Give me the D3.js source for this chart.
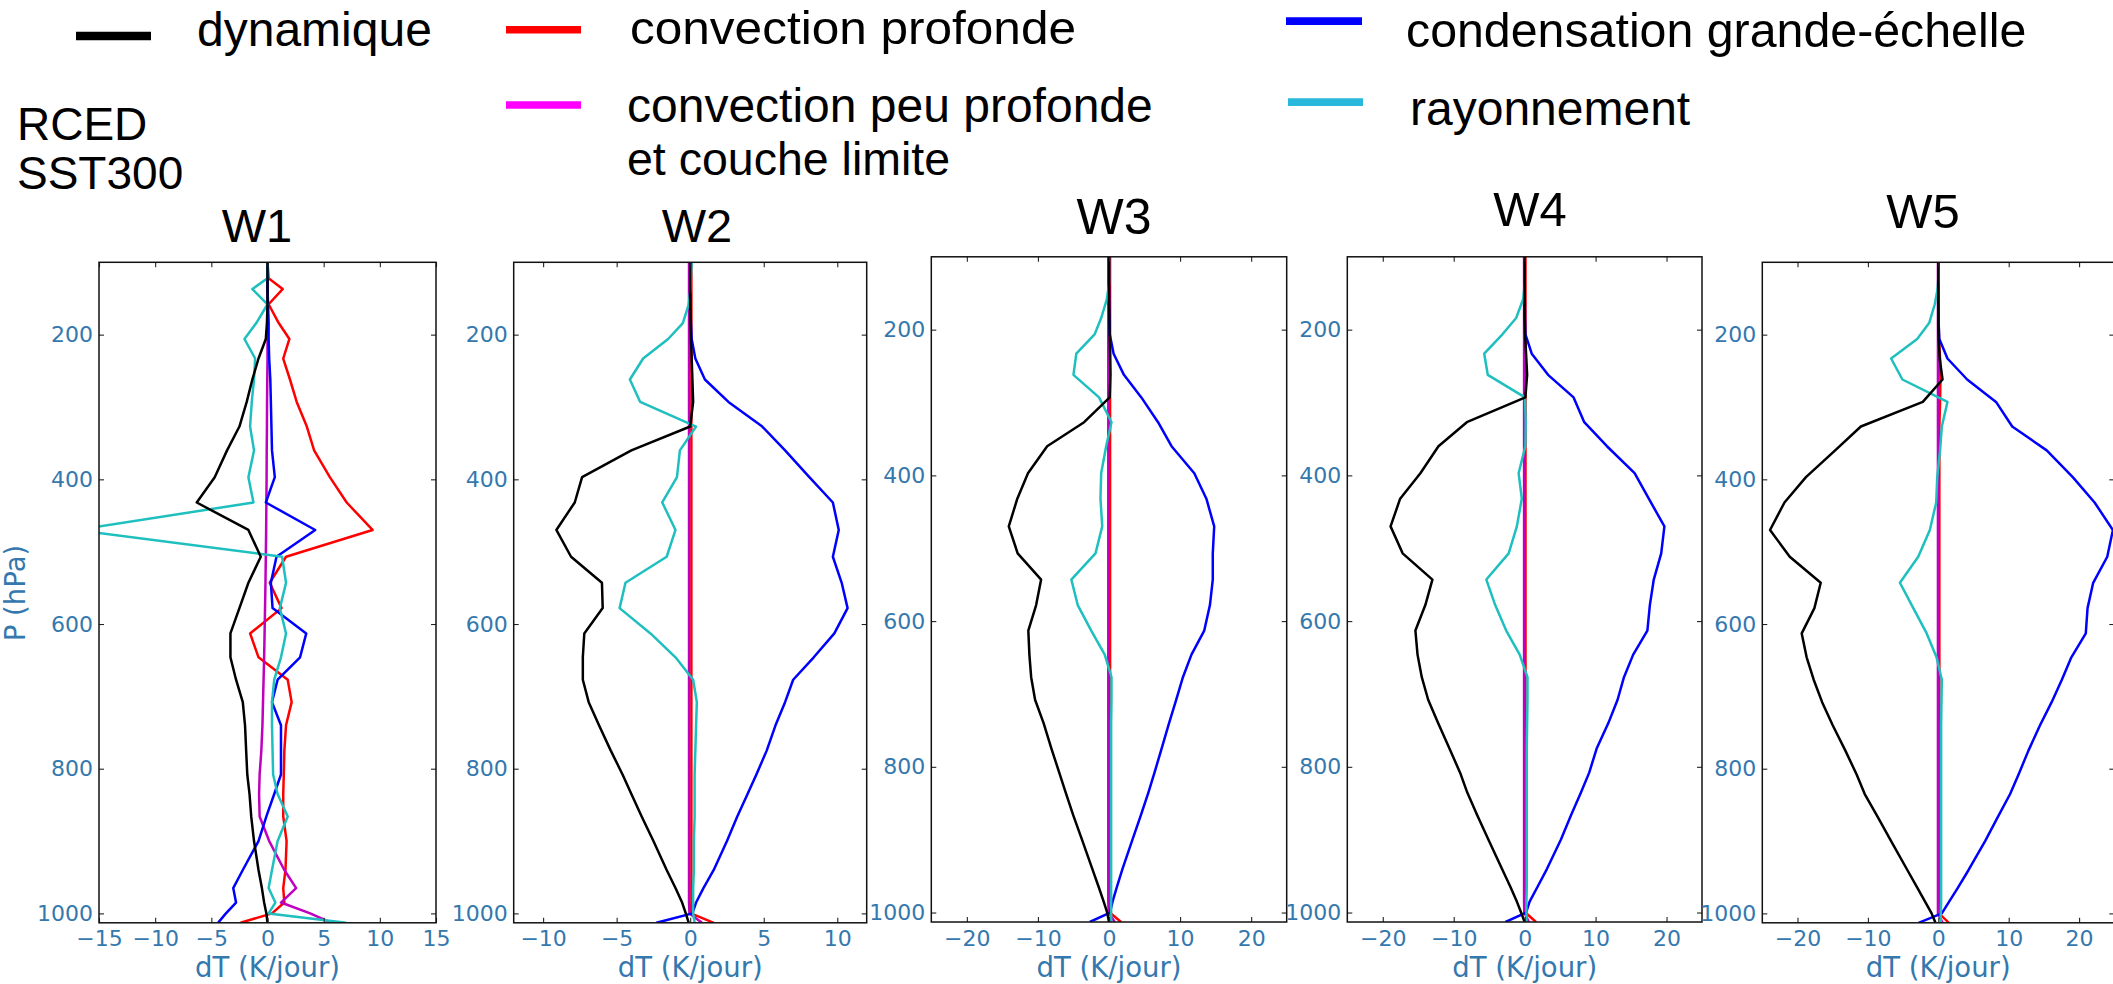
<!DOCTYPE html>
<html><head><meta charset="utf-8">
<script src="https://cdn.jsdelivr.net/npm/d3@7"></script>
<style>
html,body{margin:0;padding:0;background:#fff;}
svg{display:block;}
</style></head><body>
<svg id="chart" width="2113" height="984"></svg>
<script>
// ---------------- DATA ----------------
const levels = [100, 122, 137, 158, 184, 206, 233, 262, 293, 327, 360, 397, 432, 470, 507, 543, 578, 613, 646, 677, 708, 740, 775, 808, 835, 866, 900, 940, 965, 985, 1000, 1013];

const panelTitles = ["W1", "W2", "W3", "W4", "W5"];
const seriesKeys = ["conv", "shal", "ls", "rad", "dyn"];
const seriesNames = ["dynamique", "convection profonde", "convection peu profonde", "condensation grande-échelle", "rayonnement"];
const xDomains = [[-15, 15], [-12, 12], [-25, 25], [-25, 25], [-25, 25]];
const xTicks = [[-15, -10, -5, 0, 5, 10, 15], [-10, -5, 0, 5, 10], [-20, -10, 0, 10, 20], [-20, -10, 0, 10, 20], [-20, -10, 0, 10, 20]];
const yTicks = [200, 400, 600, 800, 1000];
const pDomain = [100, 1013];

// W1
const dyn1 = [0, 0, 0, 0, -0.05, -0.15, -0.8, -1.35, -1.85, -2.5, -3.6, -4.7, -6.3, -1.7, -0.6, -1.7, -2.5, -3.3, -3.3, -2.8, -2.2, -2.0, -1.9, -1.8, -1.6, -1.45, -1.2, -0.8, -0.5, -0.3, -0.1, 0];
const conv1 = [0, 0.1, 1.35, 0.1, 1.0, 1.95, 1.4, 2.0, 2.6, 3.5, 4.15, 5.55, 7.05, 9.35, 1.65, 0.2, 1.25, -1.55, -0.8, 1.8, 2.15, 1.65, 1.5, 1.45, 1.4, 1.4, 1.7, 1.6, 1.4, 1.5, 0.4, -2.4];
const shal1 = [0, 0, 0, 0, 0, 0, 0, -0.02, -0.04, -0.05, -0.07, -0.08, -0.1, -0.12, -0.15, -0.18, -0.22, -0.26, -0.3, -0.35, -0.4, -0.45, -0.55, -0.7, -0.75, -0.7, 0.15, 1.5, 2.55, 1.2, 3.8, 5.7];
const ls1 = [0, 0, 0, 0.05, 0.1, 0.1, 0.15, 0.25, 0.3, 0.35, 0.4, 0.65, -0.15, 4.25, 0.8, 0.3, 0.45, 3.45, 2.9, 0.9, 0.4, 1.2, 1.2, 1.2, 0.6, -0.1, -0.8, -2.2, -3.05, -2.8, -3.7, -4.4];
const rad1 = [0, 0, -1.35, 0, -1.0, -2.05, -1.1, -1.2, -1.4, -1.55, -1.2, -1.7, -1.25, -17, 1.3, 1.65, 1.1, 1.65, 1.2, 0.6, 0.4, 0.4, 0.45, 0.5, 0.9, 1.8, 0.9, 0.4, 0.1, 0.7, 0.1, 7.0];
// W2
const dyn2 = [0, 0, 0, 0, 0, 0.05, 0.1, 0.15, 0.2, 0, -4.0, -7.35, -7.85, -9.1, -8.1, -6.0, -5.95, -7.2, -7.3, -7.3, -6.9, -6.2, -5.4, -4.6, -4.0, -3.3, -2.5, -1.6, -1.0, -0.55, -0.3, -0.1];
const conv2 = [0.08, 0.08, 0.08, 0.08, 0.08, 0.08, 0.08, 0.08, 0.08, 0.08, 0.08, 0.08, 0.08, 0.08, 0.08, 0.08, 0.08, 0.08, 0.08, 0.08, 0.08, 0.08, 0.08, 0.08, 0.08, 0.08, 0.08, 0.08, 0.08, 0.08, 0.05, 1.6];
const shal2 = [-0.08, -0.08, -0.08, -0.08, -0.08, -0.08, -0.08, -0.08, -0.08, -0.08, -0.08, -0.08, -0.08, -0.08, -0.08, -0.08, -0.08, -0.08, -0.08, -0.08, -0.08, -0.08, -0.08, -0.08, -0.08, -0.08, -0.08, -0.08, -0.08, -0.08, -0.05, 0.8];
const ls2 = [0, 0, 0, 0.02, 0.05, 0.1, 0.35, 1.0, 2.6, 4.9, 6.45, 8.1, 9.7, 10.1, 9.7, 10.3, 10.7, 9.8, 8.4, 7.0, 6.45, 5.8, 5.2, 4.5, 3.9, 3.2, 2.5, 1.6, 0.9, 0.4, 0.15, -2.3];
const rad2 = [0.1, 0.05, 0.02, -0.1, -0.5, -1.5, -3.2, -4.1, -3.4, 0.4, -0.7, -0.9, -1.9, -1.0, -1.6, -4.4, -4.8, -2.7, -1.0, 0.2, 0.45, 0.4, 0.35, 0.3, 0.3, 0.3, 0.25, 0.25, 0.2, 0.2, 0.2, 0.3];
// W3
const dyn3 = [0, 0, 0, 0, 0.05, 0.1, 0.15, 0.2, 0.1, -3.5, -8.7, -11.4, -12.9, -14.1, -12.85, -9.55, -10.25, -11.35, -11.2, -10.95, -10.4, -9.2, -8.1, -7.0, -6.1, -5.05, -3.8, -2.35, -1.45, -0.75, -0.25, 0];
const conv3 = [0.15, 0.15, 0.15, 0.15, 0.15, 0.15, 0.15, 0.15, 0.15, 0.15, 0.15, 0.15, 0.15, 0.15, 0.15, 0.15, 0.15, 0.15, 0.15, 0.15, 0.15, 0.15, 0.15, 0.15, 0.15, 0.15, 0.15, 0.15, 0.15, 0.15, 0.1, 1.7];
const shal3 = [-0.1, -0.1, -0.1, -0.1, -0.1, -0.1, -0.1, -0.1, -0.1, -0.1, -0.1, -0.1, -0.1, -0.1, -0.1, -0.1, -0.1, -0.1, -0.1, -0.1, -0.1, -0.1, -0.1, -0.1, -0.1, -0.1, -0.1, -0.1, -0.1, -0.1, -0.05, 0.8];
const ls3 = [0, 0, 0, 0.02, 0.05, 0.1, 0.65, 2.1, 4.55, 6.9, 8.8, 12.0, 13.7, 14.8, 14.6, 14.6, 14.2, 13.4, 11.6, 10.4, 9.45, 8.45, 7.4, 6.4, 5.55, 4.5, 3.3, 1.9, 1.1, 0.5, 0.15, -2.7];
const rad3 = [0, 0, 0, -0.3, -1.1, -2.0, -4.6, -5.0, -1.4, 0.35, -0.4, -1.1, -1.2, -0.95, -1.9, -5.3, -4.4, -2.5, -0.6, 0.35, 0.35, 0.3, 0.3, 0.3, 0.3, 0.3, 0.3, 0.3, 0.3, 0.3, 0.3, 0.3];
// W4
const dyn4 = [0, 0, 0, 0, 0, 0.05, 0.2, 0.35, 0.1, -8.15, -12.15, -14.7, -17.55, -18.9, -17.2, -13.0, -14.0, -15.4, -15.1, -14.5, -13.6, -12.2, -10.6, -9.1, -8.1, -6.7, -5.1, -3.2, -2.0, -1.1, -0.5, 0];
const conv4 = [0.12, 0.12, 0.12, 0.12, 0.12, 0.12, 0.12, 0.12, 0.12, 0.12, 0.12, 0.12, 0.12, 0.12, 0.12, 0.12, 0.12, 0.12, 0.12, 0.12, 0.12, 0.12, 0.12, 0.12, 0.12, 0.12, 0.12, 0.12, 0.12, 0.12, 0.1, 1.6];
const shal4 = [-0.08, -0.08, -0.08, -0.08, -0.08, -0.08, -0.08, -0.08, -0.08, -0.08, -0.08, -0.08, -0.08, -0.08, -0.08, -0.08, -0.08, -0.08, -0.08, -0.08, -0.08, -0.08, -0.08, -0.08, -0.08, -0.08, -0.08, -0.08, -0.08, -0.08, -0.05, 0.6];
const ls4 = [0, 0, 0, 0.02, 0.05, 0.1, 1.0, 3.3, 6.9, 8.4, 11.6, 15.5, 17.5, 19.7, 19.25, 18.2, 17.65, 17.3, 15.3, 14.0, 13.1, 11.8, 10.15, 9.1, 7.95, 6.55, 5.1, 3.15, 1.8, 0.7, 0.2, -2.7];
const rad4 = [0, 0, 0, -0.2, -1.2, -3.1, -5.7, -5.2, 0.05, 0.15, 0.1, -0.85, -0.4, -1.1, -2.25, -5.4, -4.15, -2.6, -0.7, 0.4, 0.4, 0.35, 0.3, 0.3, 0.3, 0.3, 0.3, 0.3, 0.3, 0.25, 0.25, 0.25];
// W5
const dyn5 = [0, 0, 0, 0, 0, 0.05, 0.2, 0.6, -2.2, -11.0, -14.65, -18.8, -21.85, -23.9, -21.1, -16.7, -17.6, -19.4, -18.7, -17.7, -16.5, -15.0, -13.2, -11.6, -10.45, -8.65, -6.7, -4.4, -2.95, -1.8, -0.95, -0.4];
const conv5 = [0, 0, 0, 0, 0.05, 0.1, 0.25, 0.3, 0.25, 0.15, 0.15, 0.15, 0.15, 0.15, 0.15, 0.15, 0.15, 0.15, 0.15, 0.15, 0.15, 0.15, 0.15, 0.15, 0.15, 0.15, 0.15, 0.15, 0.15, 0.15, 0.1, 1.5];
const shal5 = [-0.05, -0.05, -0.05, -0.05, -0.05, -0.05, -0.05, -0.05, -0.05, -0.05, -0.05, -0.05, -0.05, -0.05, -0.05, -0.05, -0.05, -0.05, -0.05, -0.05, -0.05, -0.05, -0.05, -0.05, -0.05, -0.05, -0.05, -0.05, -0.05, -0.05, -0.05, 0.6];
const ls5 = [0, 0, 0, 0.02, 0.05, 0.15, 1.3, 4.1, 8.2, 10.5, 15.4, 19.1, 22.2, 24.8, 24.0, 22.0, 21.2, 20.95, 18.9, 17.55, 16.1, 14.45, 12.8, 11.4, 10.2, 8.5, 6.65, 4.3, 2.75, 1.45, 0.5, -2.8];
const rad5 = [0, 0, -0.1, -0.5, -1.3, -3.0, -6.7, -5.1, 1.3, 0.5, 0.25, -0.15, -0.3, -1.2, -2.85, -5.45, -3.55, -1.65, -0.25, 0.5, 0.45, 0.4, 0.4, 0.4, 0.4, 0.4, 0.4, 0.4, 0.4, 0.4, 0.35, 0.35];

// ---------------- LAYOUT / STYLE ----------------
const panelData = [
  {dyn: dyn1, conv: conv1, shal: shal1, ls: ls1, rad: rad1},
  {dyn: dyn2, conv: conv2, shal: shal2, ls: ls2, rad: rad2},
  {dyn: dyn3, conv: conv3, shal: shal3, ls: ls3, rad: rad3},
  {dyn: dyn4, conv: conv4, shal: shal4, ls: ls4, rad: rad4},
  {dyn: dyn5, conv: conv5, shal: shal5, ls: ls5, rad: rad5}
];
const boxes = [
  {x0: 99, x1: 436, y0: 262.3, y1: 922.8},
  {x0: 513.7, x1: 866.7, y0: 262.3, y1: 922.8},
  {x0: 931.3, x1: 1286.7, y0: 256.8, y1: 922.0},
  {x0: 1347.3, x1: 1702, y0: 256.8, y1: 922.0},
  {x0: 1762.3, x1: 2114.3, y0: 262.3, y1: 922.8}
];
const titlePos = [
  {x: 257, y: 242, s: 47}, {x: 697, y: 242, s: 47}, {x: 1114, y: 234, s: 50},
  {x: 1530, y: 226, s: 49}, {x: 1923, y: 228, s: 49}
];
const lineColors = {dyn: "#000000", conv: "#ff0000", shal: "#bf00bf", ls: "#0000ff", rad: "#1fbfbf"};
const tickBlue = "#3478ae";
const sansFont = "'Liberation Sans', Arial, sans-serif";
const dejaFont = "'DejaVu Sans', sans-serif";

const svg = d3.select("#chart");
svg.append("rect").attr("width", 2113).attr("height", 984).attr("fill", "#fff");
const defs = svg.append("defs");

panelData.forEach((pd, i) => {
  const b = boxes[i];
  const x = d3.scaleLinear().domain(xDomains[i]).range([b.x0, b.x1]);
  const y = d3.scaleLinear().domain(pDomain).range([b.y0, b.y1]);
  const g = svg.append("g");

  defs.append("clipPath").attr("id", "clip" + i)
    .append("rect").attr("x", b.x0).attr("y", b.y0)
    .attr("width", b.x1 - b.x0).attr("height", b.y1 - b.y0);

  const line = d3.line().x(d => x(d[0])).y(d => y(d[1]));
  const lg = g.append("g").attr("clip-path", `url(#clip${i})`);
  seriesKeys.forEach(k => {
    const pts = levels.map((lv, j) => [pd[k][j], lv]);
    lg.append("path").datum(pts).attr("d", line)
      .attr("fill", "none").attr("stroke", lineColors[k])
      .attr("stroke-width", 2.5).attr("stroke-linejoin", "round");
  });

  const fmt = d3.format("d");
  const styleAxis = (sel, showLabels) => {
    sel.select(".domain").remove();
    sel.selectAll(".tick line").attr("stroke", "#222").attr("stroke-width", 1.1);
    sel.selectAll(".tick text").attr("fill", tickBlue)
      .style("font-family", dejaFont).style("font-size", "22px");
    if (!showLabels) sel.selectAll(".tick text").remove();
  };
  const ab = g.append("g").attr("transform", `translate(0,${b.y1})`)
    .call(d3.axisBottom(x).tickValues(xTicks[i]).tickFormat(fmt).tickSizeInner(-5).tickSizeOuter(0).tickPadding(8));
  styleAxis(ab, true);
  const at = g.append("g").attr("transform", `translate(0,${b.y0})`)
    .call(d3.axisTop(x).tickValues(xTicks[i]).tickSizeInner(-5).tickSizeOuter(0));
  styleAxis(at, false);
  const al = g.append("g").attr("transform", `translate(${b.x0},0)`)
    .call(d3.axisLeft(y).tickValues(yTicks).tickFormat(fmt).tickSizeInner(-5).tickSizeOuter(0).tickPadding(6));
  styleAxis(al, true);
  const ar = g.append("g").attr("transform", `translate(${b.x1},0)`)
    .call(d3.axisRight(y).tickValues(yTicks).tickSizeInner(-5).tickSizeOuter(0));
  styleAxis(ar, false);

  g.append("rect").attr("x", b.x0).attr("y", b.y0)
    .attr("width", b.x1 - b.x0).attr("height", b.y1 - b.y0)
    .attr("fill", "none").attr("stroke", "#111").attr("stroke-width", 1.5);

  g.append("text").attr("x", (b.x0 + Math.min(b.x1, 2114)) / 2).attr("y", 977)
    .attr("text-anchor", "middle").attr("fill", tickBlue)
    .style("font-family", dejaFont).style("font-size", "27.5px").text("dT (K/jour)");

  const tp = titlePos[i];
  svg.append("text").attr("x", tp.x).attr("y", tp.y).attr("text-anchor", "middle")
    .style("font-family", sansFont).style("font-size", tp.s + "px").attr("fill", "#000")
    .text(panelTitles[i]);
});

svg.append("text").attr("transform", "translate(25,593) rotate(-90)")
  .attr("text-anchor", "middle").attr("fill", tickBlue)
  .style("font-family", dejaFont).style("font-size", "27.5px").text("P (hPa)");

// legend
const legendLines = [
  {x1: 76, x2: 151, y: 36, c: "#000000", w: 8.5},
  {x1: 506, x2: 581, y: 29.7, c: "#ff0000", w: 7.5},
  {x1: 506, x2: 581, y: 105, c: "#ff00ff", w: 7.5},
  {x1: 1286, x2: 1362, y: 21.2, c: "#0000ff", w: 7.7},
  {x1: 1288, x2: 1363, y: 102.2, c: "#29b8dc", w: 7.7}
];
legendLines.forEach(l => svg.append("line").attr("x1", l.x1).attr("x2", l.x2)
  .attr("y1", l.y).attr("y2", l.y).attr("stroke", l.c).attr("stroke-width", l.w));

const legendTexts = [
  {t: seriesNames[0], x: 197, y: 46, s: 48, w: 0},
  {t: seriesNames[1], x: 630, y: 43.5, s: 47, w: 446},
  {t: seriesNames[2], x: 627, y: 122, s: 48, w: 0},
  {t: "et couche limite", x: 627, y: 175, s: 46.5, w: 0},
  {t: seriesNames[3], x: 1406, y: 47, s: 48.3, w: 0},
  {t: seriesNames[4], x: 1410, y: 125, s: 48, w: 0}
];
legendTexts.forEach(l => {
  const t = svg.append("text").attr("x", l.x).attr("y", l.y)
    .style("font-family", sansFont).style("font-size", l.s + "px").attr("fill", "#000").text(l.t);
  if (l.w) t.attr("textLength", l.w).attr("lengthAdjust", "spacingAndGlyphs");
});

svg.append("text").attr("x", 17).attr("y", 140)
  .style("font-family", sansFont).style("font-size", "46px").attr("fill", "#000").text("RCED");
svg.append("text").attr("x", 17).attr("y", 189)
  .style("font-family", sansFont).style("font-size", "46px").attr("fill", "#000").text("SST300");
</script></body></html>
